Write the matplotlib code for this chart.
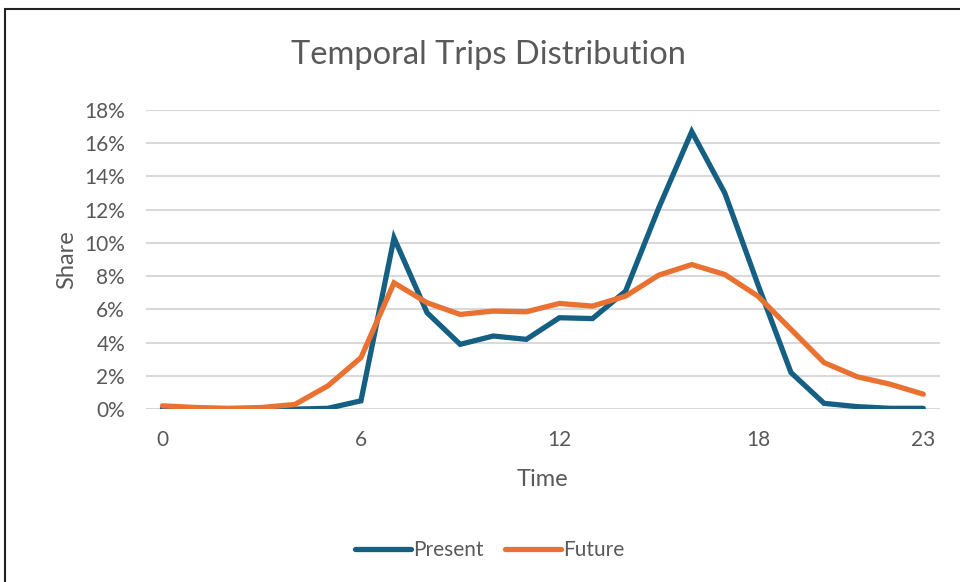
import matplotlib.pyplot as plt
from matplotlib.patches import Rectangle
from matplotlib.ticker import PercentFormatter

# Datos (proporción de viajes por hora)
horas = list(range(24))
present = [0.0005, 0.0002, 0.0, 0.0, 0.0, 0.0005, 0.005, 0.103, 0.058, 0.039,
           0.044, 0.042, 0.055, 0.0545, 0.071, 0.121, 0.167, 0.130, 0.075,
           0.022, 0.0035, 0.0015, 0.0005, 0.0005]
future = [0.002, 0.001, 0.0005, 0.001, 0.0028, 0.014, 0.031, 0.076, 0.064,
          0.057, 0.059, 0.0586, 0.0636, 0.062, 0.068, 0.0806, 0.087, 0.081,
          0.068, 0.048, 0.028, 0.0195, 0.015, 0.009]
xticks = [0, 6, 12, 18, 23]
yticks = [i / 100 for i in range(0, 19, 2)]

plt.rcParams['font.family'] = ['Lato', 'DejaVu Sans']
gris = '#595959'

fig = plt.figure(figsize=(9.6, 5.82), dpi=100)
ax = fig.add_axes([0.152, 0.297, 0.827, 0.514])

ax.plot(horas, present, color='#156082', lw=3.8, solid_capstyle='round',
        solid_joinstyle='miter', label='Present')
ax.plot(horas, future, color='#E97132', lw=3.8, solid_capstyle='round',
        solid_joinstyle='miter', label='Future')

ax.set_xlim(-0.5, 23.5)
ax.set_ylim(0, 0.18)
ax.set_xticks(xticks)
ax.set_yticks(yticks)
ax.yaxis.set_major_formatter(PercentFormatter(1.0, decimals=0))
ax.grid(axis='y', color='#D9D9D9', lw=1.5)
ax.set_axisbelow(True)
ax.tick_params(length=0, labelsize=15, colors=gris)
ax.tick_params(axis='y', pad=15)
ax.tick_params(axis='x', pad=15)
for s in ax.spines.values():
    s.set_visible(False)

# título centrado en la figura
fig.text(0.509, 1 - 55 / 582, 'Temporal Trips Distribution', fontsize=23.5,
         color=gris, ha='center', va='center')
ax.set_xlabel('Time', fontsize=17, color=gris, labelpad=14)
ax.set_ylabel('Share', fontsize=17, color=gris, labelpad=5)

leg = fig.legend(loc='center', bbox_to_anchor=(0.51, 0.055), ncol=2,
                 frameon=False, fontsize=15, handlelength=2.7,
                 handletextpad=0.1, columnspacing=1.0)
for t in leg.get_texts():
    t.set_color(gris)

# marco del área del gráfico (recortado a la derecha y abajo)
fig.patches.append(Rectangle((5 / 960, -0.1), 1.2, 1.1 - 9 / 582,
                             transform=fig.transFigure, fill=False,
                             edgecolor='#222222', lw=1.5, clip_on=False))

fig.savefig('out.png', dpi=100, facecolor='white')
